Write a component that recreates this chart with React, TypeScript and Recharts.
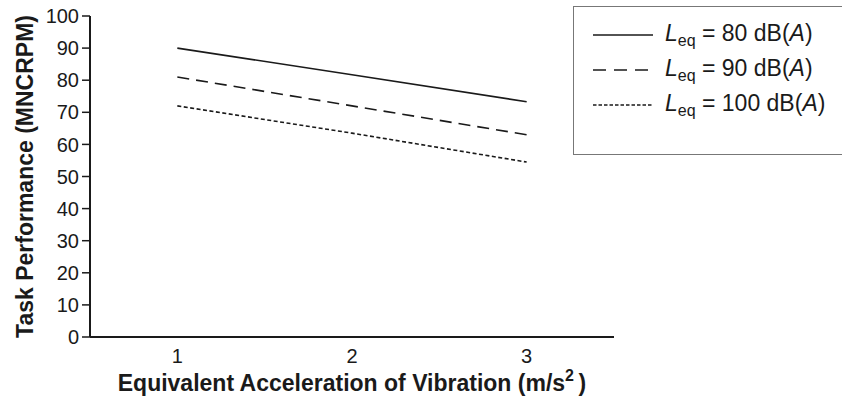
import { LineChart, Line, XAxis, YAxis, Legend } from 'recharts';

// acceleration levels (m/s^2)
const accel = [1, 2, 3];

// task performance per noise level
const leq80 = [90, 81.7, 73.3];
const leq90 = [81, 72, 63];
const leq100 = [72, 63.5, 54.5];

const yTicks = [0, 10, 20, 30, 40, 50, 60, 70, 80, 90, 100];
const xLabelTicks = [1, 2, 3];
const xBoundaryTicks = [0.5, 1.5, 2.5, 3.5];

const series = [
  { key: 'leq80', level: '80', dash: undefined, legendDash: undefined },
  { key: 'leq90', level: '90', dash: '12 7', legendDash: '13 8' },
  { key: 'leq100', level: '100', dash: '4 2.5', legendDash: '3.5 2' },
];

const data = accel.map((x, i) => ({
  x,
  leq80: leq80[i],
  leq90: leq90[i],
  leq100: leq100[i],
}));

const FONT = '"Liberation Sans", Arial, Helvetica, sans-serif';
const INK = '#1a1a1a';

const YTitle = ({ viewBox }: any) => {
  const x = viewBox.x + 25;
  const y = viewBox.y + viewBox.height / 2;
  return (
    <text
      x={x}
      y={y}
      transform={`rotate(-90 ${x} ${y})`}
      textAnchor="middle"
      dominantBaseline="central"
      fontFamily={FONT}
      fontWeight="bold"
      fontSize={23}
      fill={INK}
    >
      Task Performance (MNCRPM)
    </text>
  );
};

const XTitle = ({ viewBox }: any) => (
  <text
    x={viewBox.x + viewBox.width / 2}
    y={viewBox.y + 53}
    textAnchor="middle"
    fontFamily={FONT}
    fontWeight="bold"
    fontSize={23}
    fill={INK}
  >
    Equivalent Acceleration of Vibration (m/s
    <tspan dy={-10} fontSize={16}>2</tspan>
    <tspan dy={10}>{'\u2009)'}</tspan>
  </text>
);

const LegendBox = ({ payload }: any) => {
  const items = series.filter((s) => (payload || []).some((p: any) => p.dataKey === s.key));
  return (
    <div
      style={{
        border: '1.5px solid #777',
        height: 149,
        boxSizing: 'border-box',
        paddingTop: 10,
        paddingLeft: 19,
        fontFamily: FONT,
        fontSize: 23,
        color: INK,
        background: '#fff',
      }}
    >
      {items.map((s) => (
        <div key={s.key} style={{ display: 'flex', alignItems: 'center', height: 35 }}>
          <svg width={60} height={12} style={{ display: 'block' }}>
            <line x1={0} y1={6} x2={60} y2={6} stroke={INK} strokeWidth={1.5} strokeDasharray={s.legendDash} />
          </svg>
          <span style={{ marginLeft: 12, whiteSpace: 'nowrap', lineHeight: '22px' }}>
            <i>L</i>
            <span style={{ fontSize: 16, position: 'relative', top: 5 }}>eq</span> = {s.level} dB(<i>A</i>)
          </span>
        </div>
      ))}
    </div>
  );
};

export default function App() {
  return (
    <div style={{ position: 'absolute', left: 0, top: 0, background: '#fff' }}>
      <LineChart width={842} height={407} data={data} margin={{ top: 16, right: 228, bottom: 0, left: 0 }}>
        <XAxis
          xAxisId="a_line"
          dataKey="x"
          type="number"
          domain={[0.5, 3.5]}
          ticks={xBoundaryTicks}
          tick={false}
          tickSize={6}
          height={1}
          axisLine={{ stroke: INK, strokeWidth: 2 }}
          tickLine={{ stroke: INK, strokeWidth: 2 }}
        />
        <XAxis
          xAxisId="b_labels"
          dataKey="x"
          type="number"
          domain={[0.5, 3.5]}
          ticks={xLabelTicks}
          axisLine={false}
          tickLine={false}
          tickSize={3}
          tickMargin={8}
          height={69}
          tick={{ fontFamily: FONT, fontSize: 20, fill: INK }}
          label={{ content: <XTitle /> }}
        />
        <YAxis
          type="number"
          domain={[0, 100]}
          ticks={yTicks}
          interval={0}
          width={90}
          tickSize={8}
          tickMargin={3}
          axisLine={{ stroke: INK, strokeWidth: 2 }}
          tickLine={{ stroke: INK, strokeWidth: 1.5 }}
          tick={{ fontFamily: FONT, fontSize: 20, fill: INK }}
          label={{ content: <YTitle /> }}
        />
        <Legend
          layout="horizontal"
          verticalAlign="middle"
          align="center"
          wrapperStyle={{ left: 573, top: 6, width: 285, height: 149 }}
          content={<LegendBox />}
        />
        {series.map((s) => (
          <Line
            key={s.key}
            xAxisId="a_line"
            dataKey={s.key}
            type="linear"
            stroke={INK}
            strokeWidth={1.6}
            strokeDasharray={s.dash}
            dot={false}
            activeDot={false}
            isAnimationActive={false}
          />
        ))}
      </LineChart>
    </div>
  );
}
